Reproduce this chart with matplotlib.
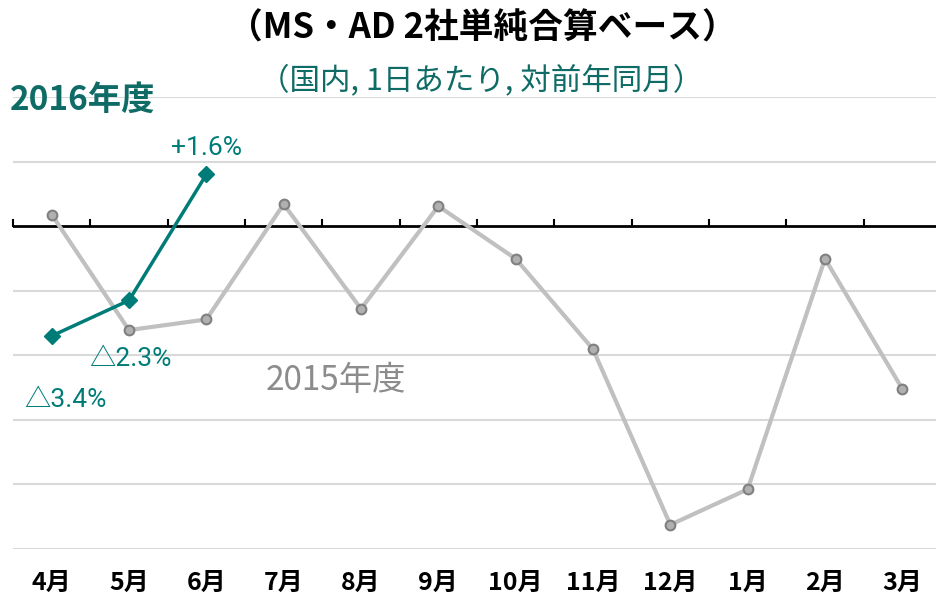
import matplotlib
matplotlib.use("Agg")
import matplotlib.pyplot as plt
import numpy as np

plt.rcParams['font.family'] = ['Noto Sans CJK JP', 'DejaVu Sans']

months = ["4月", "5月", "6月", "7月", "8月", "9月", "10月", "11月", "12月", "1月", "2月", "3月"]
fy2015 = [0.36, -3.22, -2.89, 0.68, -2.56, 0.62, -1.01, -3.81, -9.25, -8.15, -1.01, -5.04]
fy2016 = [-3.4, -2.3, 1.6]
labels2016 = ["△3.4%", "△2.3%", "+1.6%"]

teal = "#007c78"
dark_teal = "#0f6b66"

fig = plt.figure(figsize=(9.37, 5.99), dpi=100)
ax = fig.add_axes([13/937, 1-549/599, 928/937, 452/599])

x = np.arange(len(months))
ax.set_xlim(-0.5, 11.5)
ax.set_ylim(-10, 4)

for yv in np.arange(-10, 5, 2):
    if yv != 0:
        ax.axhline(yv, color="#d9d9d9", lw=1.5, zorder=0)
ax.axhline(0, color="black", lw=2, zorder=1)
for b in np.arange(-0.5, 12, 1):
    ax.plot([b, b], [0, 0.2], color="black", lw=1.5, zorder=1, clip_on=False)

ax.plot(x, fy2015, color="#c0c0c0", lw=3, marker="o", ms=7,
        mfc="#b0b0b0", mec="#808080", mew=1.5, zorder=2)
x16 = x[:len(fy2016)]
ax.plot(x16, fy2016, color=teal, lw=2.5, marker="D", ms=8,
        mfc=teal, mec=teal, zorder=3)

# data labels
lab_font = ['Roboto', 'Noto Sans CJK JP']
ax.annotate(labels2016[0], (x16[0], fy2016[0]), xytext=(10, -46), textcoords="offset points",
            ha="center", va="center", color=teal, fontsize=19, family=lab_font)
ax.annotate(labels2016[1], (x16[1], fy2016[1]), xytext=(1, -42), textcoords="offset points",
            ha="center", va="center", color=teal, fontsize=19, family=lab_font)
ax.annotate(labels2016[2], (x16[2], fy2016[2]), xytext=(0, 19), textcoords="offset points",
            ha="center", va="center", color=teal, fontsize=19, family=lab_font)

ax.text(3.68, -4.77, "2015年度", color="#8c8c8c", fontsize=24, ha="center", va="center")

ax.set_xticks(x)
ax.set_xticklabels(months, fontsize=18, fontweight="bold")
ax.tick_params(axis="x", length=0, pad=16)
ax.set_yticks([])
for s in ax.spines.values():
    s.set_visible(False)

fig.text(482/937, 1-28/599, "（MS・AD 2社単純合算ベース）", ha="center", va="center",
         fontsize=25, fontweight="bold", color="black")
fig.text(481/937, 1-80/599, "（国内, 1日あたり, 対前年同月）", ha="center", va="center",
         fontsize=22, color=dark_teal)
fig.text(10/937, 1-100/599, "2016年度", ha="left", va="center",
         fontsize=24, fontweight="bold", color=dark_teal)

fig.savefig("out.png", dpi=100)
